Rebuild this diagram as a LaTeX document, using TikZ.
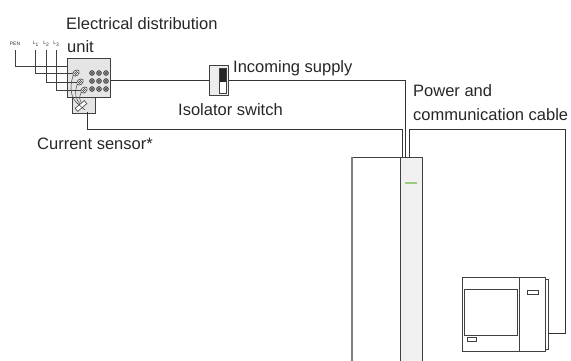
\documentclass[tikz,border=0pt]{standalone}
\usepackage{fontspec}
\setmainfont{Liberation Sans}
\usetikzlibrary{positioning}
\definecolor{ledgreen}{HTML}{9CCB7C}

\begin{document}
\begin{tikzpicture}[x=1pt,y=-1pt,
    cable/.style={draw=black!80,line width=0.9pt},
    wire/.style={draw=black!75,line width=0.5pt},
    lbl/.style={font=\fontsize{16.5}{19}\selectfont,text=black!85,inner sep=0pt,anchor=base west},
    tiny lbl/.style={font=\fontsize{5}{6}\selectfont,text=black!80,inner sep=0pt},
    box/.style={draw=black!75,line width=0.8pt,inner sep=0pt,anchor=north west}]
\useasboundingbox (0,0) rectangle (571,360);

% distribution unit with sensor housing
\node[box,fill=black!10,minimum width=43,minimum height=39] (dbox) at (67,58) {};
\node[box,fill=black!10,minimum width=23,minimum height=16] (ctbox) at (72,97) {};

% incoming conductors
\node[tiny lbl] (pen) at (15,44) {PEN};
\node[tiny lbl] (l1) at (36,44) {L\textsubscript{1}};
\node[tiny lbl] (l2) at (46.5,44) {L\textsubscript{2}};
\node[tiny lbl] (l3) at (56.5,44) {L\textsubscript{3}};
\coordinate (pen in) at (67,66);
\coordinate (l1 in) at (74,73);
\coordinate (l2 in) at (78,82);
\coordinate (l3 in) at (82,90);
\draw[wire] (15,50) |- (pen in);
\draw[wire] (35,50) |- (l1 in);
\draw[wire] (46,50) |- (l2 in);
\draw[wire] (56,50) |- (l3 in);

% screw terminals
\foreach \r in {73,81,89}
  \foreach \c in {92,99,106} {
    \draw[black!85,fill=black!40,line width=0.6pt] (\c,\r) circle (2.4);
    \fill[black!85] (\c,\r) circle (0.9);
  }

% cable glands
\foreach \gx/\gy in {76/73,80/82,84/90} {
  \draw[black!80,fill=white,line width=0.6pt,rotate around={40:(\gx,\gy)}] (\gx,\gy) ellipse (3.6 and 2.6);
  \draw[black!80,line width=0.5pt] (\gx-2,\gy+1) -- (\gx+1,\gy-2) (\gx-1,\gy+2) -- (\gx+2,\gy-1);
}

% conductors through the current sensor
\draw[wire] (73,76) .. controls (69,88) and (71,98) .. (78,104);
\draw[wire] (77,85) .. controls (74,94) and (76,99) .. (80,104);
\draw[wire] (81,93) .. controls (79,98) .. (82,104);
\draw[black!75,fill=white,line width=0.6pt,rotate around={40:(81,106)}] (75,104) rectangle (87,108);
\draw[wire] (77,103) -- (85,110);
\coordinate (ct out) at (87,112);

% isolator switch
\node[box,fill=black!7,minimum width=19,minimum height=30] (isol) at (209,65) {};
\draw[black!75,fill=white,line width=0.5pt] (219,68) rectangle (226,93);
\fill[black!85] (219.5,68.5) rectangle (225.5,82);

% indoor unit
\node[box,fill=white,minimum width=48,minimum height=215] (indoor) at (352,157) {};
\node[box,fill=black!6,minimum width=22,minimum height=215] (panel) at (400,157) {};
\draw[black!50,line width=1.4pt] (indoor.north west) -- (indoor.south west);
\draw[ledgreen,line width=1.2pt] (405,183) -- (417,183);
\coordinate (sensor in) at (402,157);
\coordinate (supply in) at (405,157);
\coordinate (comm in) at (409,157);

% outdoor unit
\node[box,fill=white,minimum width=83,minimum height=74] (outdoor) at (462,277) {};
\draw[black!75,line width=0.6pt] (545,279) rectangle (548,349);
\draw[black!75,line width=0.6pt] (519,277) -- (519,351);
\draw[black!75,line width=0.6pt] (464,289) rectangle (517,335);
\draw[black!75,line width=0.6pt] (467,337) rectangle (476,341);
\draw[black!75,line width=0.6pt] (527,290) rectangle (538,294);
\coordinate (odu port) at (548,333);

% cables
\draw[cable] (dbox.east |- 0,80) -- (isol.west |- 0,80);
\draw[cable] (isol.east |- 0,80) -| (supply in);
\draw[cable] (ct out) -- (87,129) -| (sensor in);
\draw[cable] (comm in) -- (409,129) -| (565,333) -- (odu port);

% labels
\node[lbl] (dist label) at (66,29) {Electrical distribution};
\node[lbl] (unit label) at (67,52) {unit};
\node[lbl] (supply label) at (233,72) {Incoming supply};
\node[lbl] (isol label) at (178,115) {Isolator switch};
\node[lbl] (ct label) at (37,149) {Current sensor*};
\node[lbl] (cable label) at (413,96) {Power and};
\node[lbl] (cable label2) at (413,120) {communication cable};
\end{tikzpicture}
\end{document}
